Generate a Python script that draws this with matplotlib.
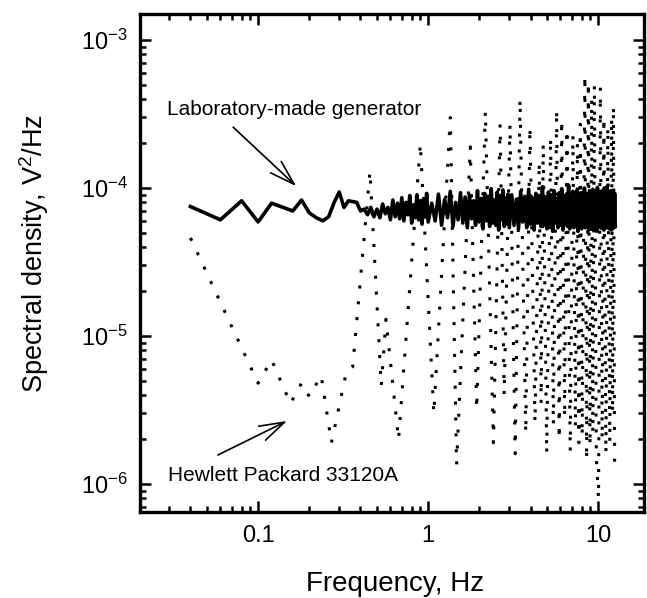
import numpy as np
import matplotlib
matplotlib.use("Agg")
import matplotlib.pyplot as plt
from matplotlib.ticker import NullFormatter

plt.rcParams['font.family'] = ['Liberation Sans', 'DejaVu Sans']
plt.rcParams['mathtext.fontset'] = 'custom'
plt.rcParams['mathtext.rm'] = 'Liberation Sans'
plt.rcParams['mathtext.it'] = 'Liberation Sans:italic'

# Laboratory-made generator spectrum, in units of 1e-5 V^2/Hz
lab_f1 = np.round(np.arange(0.04, 1.001, 0.02), 2)
lab_v1 = [7.5, 6.1, 8.2, 5.9, 7.9, 7.4, 7.0, 8.3, 6.8, 6.3,
          6.0, 6.4, 8.0, 9.4, 7.4, 8.2, 8.1, 8.0, 7.0, 7.2,
          6.6, 7.4, 6.4, 7.2, 6.3, 7.8, 6.7, 7.4, 6.1, 8.3,
          6.4, 7.9, 6.2, 8.6, 6.0, 8.0, 6.6, 8.9, 5.8, 7.7,
          6.3, 9.0, 6.1, 8.2, 5.7, 8.5, 6.4, 9.2, 5.9]
lab_f2 = np.round(np.arange(1.05, 3.001, 0.05), 2)
lab_v2 = [7.9, 6.0, 9.1, 5.6, 8.4, 6.3, 9.5, 5.5, 8.0, 6.1,
          9.3, 5.8, 8.7, 5.4, 9.0, 6.2, 8.2, 5.6, 9.6, 5.9,
          8.5, 5.3, 9.2, 6.0, 8.8, 5.5, 9.9, 5.8, 8.3, 5.6,
          9.4, 5.2, 8.9, 6.1, 9.7, 5.5, 8.6, 5.7, 9.1, 5.4]
lab_f3 = np.round(np.arange(3.1, 12.601, 0.1), 1)
lab_v3 = [9.0, 5.6, 8.4, 5.3, 9.5, 5.9, 8.8, 5.4, 9.8, 5.7,
          8.6, 5.2, 9.2, 5.8, 8.9, 5.5, 10.2, 5.6, 8.7, 5.3,
          9.4, 5.7, 9.0, 5.1, 9.6, 5.8, 8.5, 5.4, 9.3, 5.6,
          9.9, 5.2, 8.8, 5.7, 9.1, 5.5, 10.4, 5.3, 8.9, 5.8,
          9.5, 5.4, 8.6, 5.6, 9.7, 5.1, 9.0, 5.7, 9.3, 5.3,
          8.8, 5.6, 10.0, 5.4, 9.2, 5.8, 8.7, 5.2, 9.6, 5.5,
          9.1, 5.7, 9.8, 5.3, 8.9, 5.6, 9.4, 5.1, 10.1, 5.5,
          8.6, 5.8, 9.5, 5.4, 9.0, 5.6, 9.7, 5.2, 8.8, 5.7,
          9.3, 5.4, 10.3, 5.5, 9.1, 5.3, 8.7, 5.8, 9.6, 5.2,
          9.0, 5.6, 9.4, 5.4, 9.2, 5.5]

# Hewlett Packard 33120A spectrum: peaks and troughs (Hz, V^2/Hz)
hp_f = [0.04, 0.10, 0.12, 0.155, 0.18, 0.20, 0.235, 0.27, 0.33, 0.36,
        0.455, 0.53, 0.565, 0.67, 0.90, 1.08, 1.35, 1.47, 1.77, 1.93,
        2.17, 2.42, 2.65, 2.80, 3.03, 3.25, 3.47, 3.75, 3.97, 4.25,
        4.50, 4.62, 4.75, 4.98, 5.25, 5.45, 5.70, 5.90, 6.10, 6.35,
        6.55, 6.85, 7.10, 7.35, 7.55, 7.70, 7.85, 8.05, 8.35, 8.55,
        8.75, 8.95, 9.15, 9.30, 9.50, 9.75, 10.05, 10.3, 10.55, 10.8,
        11.1, 11.4, 11.7, 12.0, 12.15, 12.3, 12.5]
hp_v = [4.6e-5, 4.8e-6, 6.9e-6, 3.5e-6, 4.8e-6, 3.9e-6, 5.4e-6, 1.9e-6, 5.7e-6, 6.2e-6,
        1.3e-4, 4.6e-6, 1.3e-5, 2.0e-6, 2.0e-4, 3.0e-6, 3.0e-4, 1.35e-6, 1.9e-4, 3.2e-6,
        3.3e-4, 1.9e-6, 2.7e-4, 4.0e-6, 2.7e-4, 1.6e-6, 4.0e-4, 2.2e-6, 2.6e-4, 2.6e-6,
        1.5e-4, 3.5e-6, 2.0e-4, 1.6e-6, 2.2e-4, 2.5e-6, 3.4e-4, 2.0e-6, 2.9e-4, 2.8e-6,
        2.5e-4, 1.65e-6, 2.3e-4, 2.4e-6, 2.0e-4, 1.9e-6, 2.7e-4, 2.1e-6, 5.8e-4, 1.45e-6,
        5.2e-4, 1.8e-6, 4.0e-4, 2.2e-6, 5.0e-4, 1.5e-6, 8.0e-7, 4.8e-4, 2.0e-6, 3.0e-4,
        1.6e-6, 2.6e-4, 1.9e-6, 3.0e-4, 3.0e-6, 3.6e-4, 1.24e-6]

x_ticks = [0.1, 1, 10]
x_tick_labels = ['0.1', '1', '10']
y_ticks = [1e-6, 1e-5, 1e-4, 1e-3]
y_tick_labels = [r'$\mathregular{10^{-6}}$', r'$\mathregular{10^{-5}}$',
                 r'$\mathregular{10^{-4}}$', r'$\mathregular{10^{-3}}$']

lab_f = np.concatenate([lab_f1, lab_f2, lab_f3])
lab_v = np.concatenate([lab_v1, lab_v2, lab_v3]) * 1e-5

fig = plt.figure(figsize=(6.47, 5.98), dpi=100)
ax = fig.add_axes([140/647, 1 - 512/598, 504/647, 498/598])
ax.set_xscale('log')
ax.set_yscale('log')

ax.plot(hp_f, hp_v, color='black', lw=2.2, linestyle=(0, (1, 4.2)))
ax.plot(lab_f, lab_v, color='black', lw=2.6)

ax.set_xlim(0.0202, 18.6)
ax.set_ylim(6.47e-7, 1.5e-3)
ax.set_xticks(x_ticks, labels=x_tick_labels)
ax.set_yticks(y_ticks, labels=y_tick_labels)
ax.xaxis.set_minor_formatter(NullFormatter())
ax.yaxis.set_minor_formatter(NullFormatter())

ax.tick_params(which='both', direction='in', top=True, right=True, width=1.8,
               labelsize=17)
ax.tick_params(which='major', length=8, pad=9)
ax.tick_params(which='minor', length=4.5)
for s in ax.spines.values():
    s.set_linewidth(2.4)

ax.set_xlabel('Frequency, Hz', fontsize=20)
ax.set_ylabel(r'Spectral density, V$^2$/Hz', fontsize=19.5)
ax.xaxis.set_label_coords(0.506, -0.118)
ax.yaxis.set_label_coords(-0.177, 0.52)

ax.text(0.0292, 3.42e-4, 'Laboratory-made generator', fontsize=15,
        ha='left', va='center')
ax.text(0.0296, 1.15e-6, 'Hewlett Packard 33120A', fontsize=15,
        ha='left', va='center')
arrow = dict(arrowstyle='->,head_length=0.9,head_width=0.28', lw=1.2,
             color='black', shrinkA=0, shrinkB=0, mutation_scale=20)
ax.annotate('', xy=(0.1675, 1.03e-4), xytext=(0.0713, 2.58e-4), arrowprops=arrow)
ax.annotate('', xy=(0.148, 2.67e-6), xytext=(0.058, 1.57e-6), arrowprops=arrow)

fig.savefig('out.png', dpi=100)
